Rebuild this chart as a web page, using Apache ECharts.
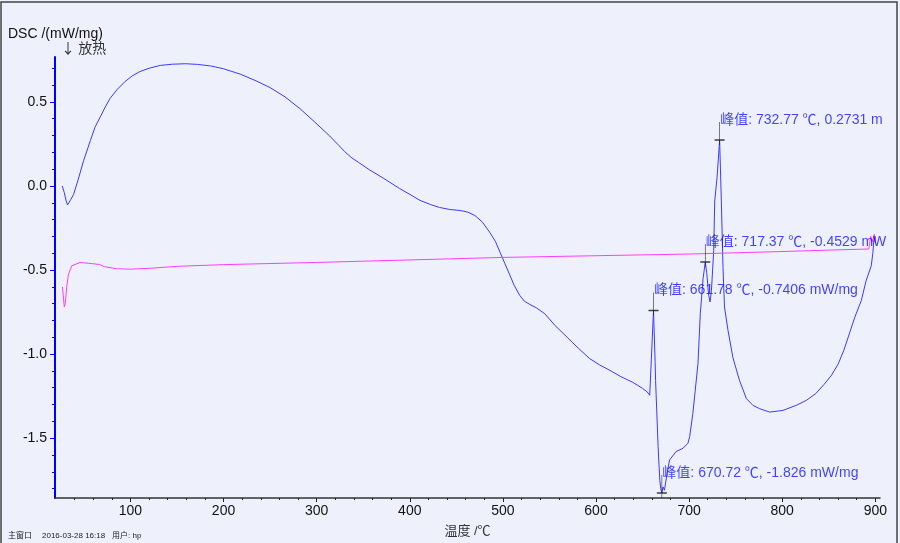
<!DOCTYPE html>
<html>
<head>
<meta charset="utf-8">
<script src="https://cdn.jsdelivr.net/npm/echarts@6/dist/echarts.min.js"></script>
<style>
  html, body { margin: 0; padding: 0; background: #eef1fb; }
  #dsc { width: 900px; height: 543px; }
</style>
</head>
<body>
<div id="dsc"></div>
<script>
  // DSC 曲线 (温度 ℃, mW/mg)
  var dscT = [26.8, 29, 31, 32.5, 34, 36, 39, 44, 49.7, 57, 62, 68, 73, 78, 86, 94, 102, 110, 120, 132, 145, 159, 172, 186, 200, 218, 235, 250, 266, 282, 298, 314, 324, 330, 337, 345, 357, 372, 389, 400, 411, 422, 432, 443, 454, 462, 470, 478, 486, 492, 497, 502, 507.5, 512, 518, 523, 529, 536, 545, 556, 569, 581, 593, 604, 615, 627, 639.5, 650, 655, 657.7, 659.5, 661.78, 663.5, 664, 666.7, 668.5, 669.5, 670.72, 672, 673.5, 676, 679, 686, 693.5, 698.8, 700.6, 704, 709.5, 712, 715, 717.37, 719, 721, 722.5, 724, 726.4, 727.5, 730, 732.77, 734.6, 736.4, 738, 741.8, 747, 754, 761.5, 768.6, 775.8, 786.5, 800.8, 815, 826, 836, 845, 853, 860, 866, 872, 878, 885, 890, 895.6, 897.3, 898.5, 899, 899.5, 900];
  var dscV = [0.00, -0.04, -0.09, -0.113, -0.105, -0.08, -0.05, 0.04, 0.15, 0.27, 0.35, 0.415, 0.47, 0.52, 0.575, 0.62, 0.655, 0.68, 0.70, 0.717, 0.724, 0.727, 0.723, 0.714, 0.697, 0.665, 0.625, 0.585, 0.53, 0.46, 0.38, 0.297, 0.24, 0.205, 0.17, 0.14, 0.095, 0.045, -0.015, -0.05, -0.086, -0.11, -0.128, -0.14, -0.146, -0.155, -0.176, -0.215, -0.277, -0.33, -0.395, -0.46, -0.53, -0.59, -0.65, -0.685, -0.705, -0.725, -0.76, -0.83, -0.90, -0.965, -1.026, -1.065, -1.097, -1.135, -1.168, -1.204, -1.225, -1.245, -1.24, -0.7406, -1.05, -1.157, -1.55, -1.75, -1.80, -1.826, -1.79, -1.81, -1.72, -1.63, -1.58, -1.56, -1.53, -1.49, -1.354, -1.058, -0.76, -0.55, -0.4529, -0.52, -0.65, -0.69, -0.62, -0.385, -0.09, 0.05, 0.2731, -0.09, -0.485, -0.72, -0.86, -1.02, -1.155, -1.265, -1.305, -1.325, -1.345, -1.335, -1.305, -1.275, -1.235, -1.18, -1.125, -1.06, -0.98, -0.88, -0.78, -0.68, -0.565, -0.475, -0.40, -0.31, -0.29, -0.33, -0.30];

  // 基线 (粉色)
  var baseT = [27, 29, 30, 31.6, 33.5, 37, 46, 55, 67, 72, 85, 100, 120, 150, 200, 300, 400, 500, 600, 700, 800, 860, 893, 895, 897, 899, 900];
  var baseV = [-0.60, -0.72, -0.70, -0.60, -0.524, -0.475, -0.455, -0.46, -0.467, -0.48, -0.492, -0.495, -0.49, -0.478, -0.468, -0.455, -0.44, -0.425, -0.415, -0.405, -0.39, -0.38, -0.375, -0.30, -0.33, -0.29, -0.34];

  // 峰值
  var peakT = [732.77, 717.37, 661.78, 670.72];
  var peakV = [0.2731, -0.4529, -0.7406, -1.826];
  var peakText = ['峰值: 732.77 ℃, 0.2731 m', '峰值: 717.37 ℃, -0.4529 mW', '峰值: 661.78 ℃, -0.7406 mW/mg', '峰值: 670.72 ℃, -1.826 mW/mg'];

  // 刻度
  var xMajor = [100, 200, 300, 400, 500, 600, 700, 800, 900];
  var xMinor = [40, 60, 80, 120, 140, 160, 180, 220, 240, 260, 280, 320, 340, 360, 380, 420, 440, 460, 480, 520, 540, 560, 580, 620, 640, 660, 680, 720, 740, 760, 780, 820, 840, 860, 880];
  var yMajor = [-1.5, -1.0, -0.5, 0.0, 0.5];
  var yMinor = [-1.8, -1.7, -1.6, -1.4, -1.3, -1.2, -1.1, -0.9, -0.8, -0.7, -0.6, -0.4, -0.3, -0.2, -0.1, 0.1, 0.2, 0.3, 0.4, 0.6, 0.7];

  var font = "'Liberation Sans', 'Noto Sans CJK SC', sans-serif";
  var xMin = 19, xMax = 905, yMin = -1.856, yMax = 0.767;

  function pairs(a, b) {
    return a.map(function (t, i) { return [t, b[i]]; });
  }

  var chart = echarts.init(document.getElementById('dsc'));
  window.addEventListener('resize', function () { chart.resize(); });

  chart.setOption({
    backgroundColor: '#eef1fb',
    animation: false,
    grid: { left: 55, right: 20, top: 57, bottom: 45 },
    xAxis: [
      {
        type: 'value', min: xMin, max: xMax, position: 'bottom',
        axisLine: { show: true, onZero: false, lineStyle: { color: '#333', width: 1.5 } },
        axisTick: { show: true, customValues: xMajor, length: 4, lineStyle: { color: '#222' } },
        axisLabel: { customValues: xMajor, color: '#111', fontSize: 14, margin: 6, fontFamily: font },
        splitLine: { show: false },
        name: '温度 /℃', nameLocation: 'middle', nameGap: 27,
        nameTextStyle: { color: '#333', fontSize: 13, fontFamily: font }
      },
      {
        type: 'value', min: xMin, max: xMax, position: 'bottom',
        axisLine: { show: false, onZero: false },
        axisTick: { show: true, customValues: xMinor, length: 2, lineStyle: { color: '#222' } },
        axisLabel: { show: false },
        splitLine: { show: false }
      }
    ],
    yAxis: [
      {
        type: 'value', min: yMin, max: yMax, position: 'left',
        axisLine: { show: true, onZero: false, lineStyle: { color: '#0000ff', width: 2 } },
        axisTick: { show: true, customValues: yMajor, length: 5, lineStyle: { color: '#0000ff' } },
        axisLabel: {
          customValues: yMajor, color: '#111', fontSize: 14, margin: 8, fontFamily: font,
          formatter: function (v) { return v.toFixed(1); }
        },
        splitLine: { show: false }
      },
      {
        type: 'value', min: yMin, max: yMax, position: 'left',
        axisLine: { show: false, onZero: false },
        axisTick: { show: true, customValues: yMinor, length: 3, lineStyle: { color: '#0000ff' } },
        axisLabel: { show: false },
        splitLine: { show: false }
      }
    ],
    graphic: [
      { type: 'rect', silent: true, shape: { x: 1, y: 2, width: 896, height: 545 }, style: { fill: 'none', stroke: '#444', lineWidth: 1.5 } },
      { type: 'text', left: 8, top: 27, style: { text: 'DSC /(mW/mg)', fill: '#111', font: '14px ' + font } },
      { type: 'text', left: 61, top: 41, style: { text: '↓ 放热', fill: '#333', font: "14px 'Noto Sans CJK SC', sans-serif" } },
      { type: 'text', left: 8, top: 532, style: { text: '主窗口', fill: '#222', font: '8px ' + font } },
      { type: 'text', left: 42, top: 532, style: { text: '2016-03-28 16:18', fill: '#222', font: '8px ' + font } },
      { type: 'text', left: 112, top: 532, style: { text: '用户: hp', fill: '#222', font: '8px ' + font } }
    ],
    series: [
      {
        name: 'DSC', type: 'line', xAxisIndex: 0, yAxisIndex: 0,
        data: pairs(dscT, dscV), showSymbol: false, symbol: 'none',
        lineStyle: { color: '#3a3aff', width: 1 }
      },
      {
        name: '基线', type: 'line', xAxisIndex: 0, yAxisIndex: 0,
        data: pairs(baseT, baseV), showSymbol: false, symbol: 'none',
        lineStyle: { color: '#ff3cff', width: 1 }
      },
      {
        name: '峰标记', type: 'scatter', xAxisIndex: 0, yAxisIndex: 0, silent: true,
        data: pairs(peakT, peakV),
        symbol: 'path://M0,18 L10,18 M5,0 L5,23',
        symbolSize: [10, 23], symbolOffset: [0, -6.5],
        itemStyle: { color: 'none', borderColor: '#111', borderWidth: 1 },
        z: 5
      },
      {
        name: '峰值', type: 'scatter', xAxisIndex: 0, yAxisIndex: 0, silent: true,
        data: peakT.map(function (t, i) { return { value: [t, peakV[i]], name: peakText[i] }; }),
        symbolSize: 1,
        itemStyle: { color: 'transparent' },
        label: {
          show: true, position: 'right', distance: 0, offset: [0, -20],
          formatter: '{b}', color: '#1414ff', fontSize: 14, fontFamily: font
        },
        z: 6
      }
    ]
  });
</script>
</body>
</html>
